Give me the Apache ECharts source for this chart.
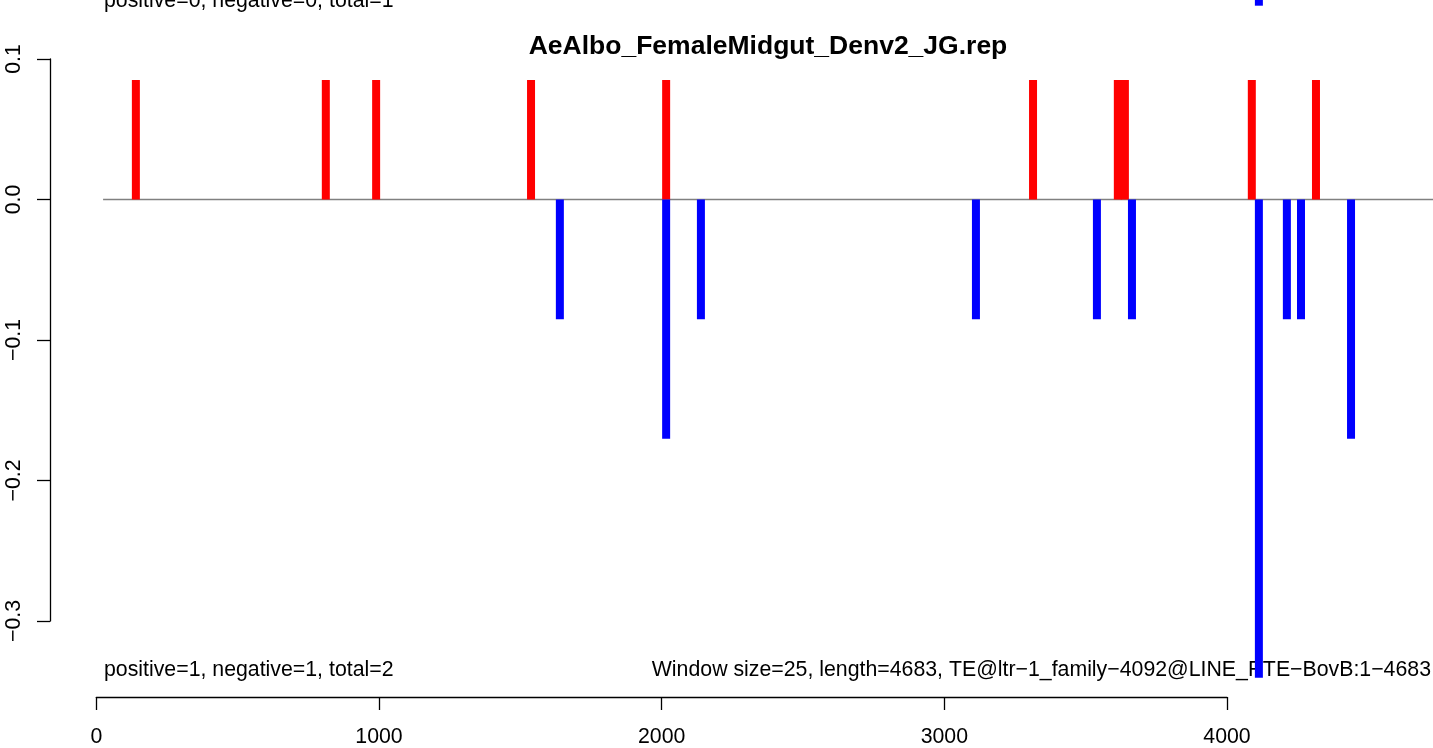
<!DOCTYPE html>
<html>
<head>
<meta charset="utf-8">
<script src="https://cdn.jsdelivr.net/npm/echarts@6/dist/echarts.min.js"></script>
<style>
html,body{margin:0;padding:0;background:#fff;}
#c{width:1433px;height:748px;}
</style>
</head>
<body>
<div id="c"></div>
<script>
// ---- data ----
const chartTitle = 'AeAlbo_FemaleMidgut_Denv2_JG.rep';
const posX = [140, 812, 990, 1538, 2016, 3314, 3614, 3639, 4088, 4315];
const posY = [0.085, 0.085, 0.085, 0.085, 0.085, 0.085, 0.085, 0.085, 0.085, 0.085];
const negX = [1640, 2016, 2139, 3112, 3540, 3664, 4113, 4212, 4262, 4439];
const negY = [-0.085, -0.17, -0.085, -0.085, -0.085, -0.085, -0.34, -0.085, -0.085, -0.17];
const zeroLineX = [24, 4729];
const prevPanelNegX = [4113];
const prevPanelNegY = [-1];
const xTicks = [0, 1000, 2000, 3000, 4000];
const yTicks = [-0.3, -0.2, -0.1, 0.0, 0.1];
const prevPanelText = 'positive=0, negative=0, total=1';
const countText = 'positive=1, negative=1, total=2';
const infoText = 'Window size=25, length=4683, TE@ltr\u22121_family\u22124092@LINE_RTE\u2212BovB:1\u22124683';

const FONT = '"Liberation Sans", Arial, Helvetica, sans-serif';
const FS = 21.3;
const fmtNum = v => {
  const r = Math.round(v * 10) / 10;
  return (r < 0 ? '\u2212' : '') + Math.abs(r).toFixed(1);
};

const chart = echarts.init(document.getElementById('c'), null, {renderer: 'canvas'});

const option = {
  backgroundColor: '#ffffff',
  animation: false,
  grid: [
    {left: 96.3, width: 1336.7, top: 59, height: 689},
    {left: 96.3, width: 1130.7, top: 690, height: 10},
    {left: 50, width: 10, top: 59, height: 562},
    {left: 96.3, width: 1336.7, top: 0, height: 5.7}
  ],
  xAxis: [
    {gridIndex: 0, type: 'value', min: 0, max: 4729, show: false},
    {gridIndex: 1, type: 'value', min: xTicks[0], max: xTicks[xTicks.length - 1], interval: 1000,
      axisLine: {show: true, lineStyle: {color: '#000', width: 1.3}},
      axisTick: {show: true, length: 13, lineStyle: {color: '#000', width: 1.3}},
      axisLabel: {fontFamily: FONT, fontSize: FS, color: '#000', margin: 30,
        formatter: v => String(v)},
      splitLine: {show: false}},
    {gridIndex: 2, type: 'value', min: 0, max: 1, show: false},
    {gridIndex: 3, type: 'value', min: 0, max: 4729, show: false}
  ],
  yAxis: [
    {gridIndex: 0, type: 'value', min: -0.39, max: 0.1, show: false},
    {gridIndex: 1, type: 'value', min: 0, max: 1, show: false},
    {gridIndex: 2, type: 'value', min: yTicks[0], max: yTicks[yTicks.length - 1], interval: 0.1,
      axisLine: {show: true, lineStyle: {color: '#000', width: 1.3}},
      axisTick: {show: true, length: 13, lineStyle: {color: '#000', width: 1.3}},
      axisLabel: {fontFamily: FONT, fontSize: FS, color: '#000', margin: 25, rotate: 90,
        formatter: fmtNum},
      splitLine: {show: false}},
    {gridIndex: 3, type: 'value', min: -1, max: 0, show: false}
  ],
  graphic: [
    {type: 'text', x: 768, y: 46.5, style: {text: chartTitle, font: 'bold 26.5px ' + FONT, fill: '#000', textAlign: 'center', textVerticalAlign: 'middle'}},
    {type: 'text', x: 104, y: 1, style: {text: prevPanelText, font: FS + 'px ' + FONT, fill: '#000', textAlign: 'left', textVerticalAlign: 'middle'}},
    {type: 'text', x: 104, y: 670.6, style: {text: countText, font: FS + 'px ' + FONT, fill: '#000', textAlign: 'left', textVerticalAlign: 'middle'}},
    {type: 'text', x: 1431, y: 670.6, style: {text: infoText, font: FS + 'px ' + FONT, fill: '#000', textAlign: 'right', textVerticalAlign: 'middle'}}
  ],
  series: [
    {type: 'line', xAxisIndex: 0, yAxisIndex: 0, z: 1, symbol: 'none',
      data: zeroLineX.map(x => [x, 0]),
      lineStyle: {color: '#808080', width: 1.5}},
    {type: 'bar', xAxisIndex: 0, yAxisIndex: 0, z: 3, barWidth: 8, barGap: '-100%',
      data: posX.map((x, i) => [x, posY[i]]),
      itemStyle: {color: '#ff0000'}},
    {type: 'bar', xAxisIndex: 0, yAxisIndex: 0, z: 3, barWidth: 8, barGap: '-100%',
      data: negX.map((x, i) => [x, negY[i]]),
      itemStyle: {color: '#0000ff'}},
    {type: 'bar', xAxisIndex: 3, yAxisIndex: 3, z: 3, barWidth: 8,
      data: prevPanelNegX.map((x, i) => [x, prevPanelNegY[i]]),
      itemStyle: {color: '#0000ff'}}
  ]
};
chart.setOption(option);
</script>
</body>
</html>
